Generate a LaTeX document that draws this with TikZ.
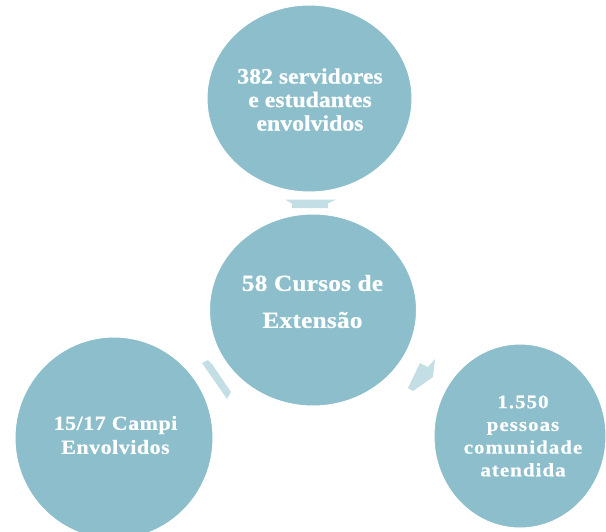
\documentclass[tikz,border=0pt]{standalone}
\usepackage{fontspec}
\setmainfont{Liberation Serif}
\usetikzlibrary{shapes.geometric}
\definecolor{circ}{RGB}{140,190,203}
\definecolor{arr}{RGB}{196,222,230}
\begin{document}
\begin{tikzpicture}[x=1pt,y=-1pt,
  bubble/.style={ellipse, fill=circ, draw=white, line width=1pt, inner sep=0pt},
  lbl/.style={text=white, align=center, inner sep=0pt},
  arrowshape/.style={fill=arr, draw=none}]
\useasboundingbox (0,0) rectangle (606,531);
\clip (0,0) rectangle (606,531);
% bubbles
\node[bubble, minimum width=205pt, minimum height=187pt] (top) at (309.5,98.5) {};
\node[bubble, minimum width=207pt, minimum height=192pt] (mid) at (313,310) {};
\node[bubble, minimum width=198pt, minimum height=202pt] (left) at (114,438) {};
\node[bubble, minimum width=172pt, minimum height=184pt] (right) at (520,436) {};
% arrows
\coordinate (a1) at (285,199.5);
\fill[arrowshape] (a1) -- (336,199.5) -- (328,203.5) -- (328,208) -- (292,208) -- (292,203.5) -- cycle;
\coordinate (a2) at (202,363);
\fill[arrowshape] (a2) -- (208,360) -- (212,364) -- (231,392) -- (227,399) -- cycle;
\coordinate (a3) at (420,363);
\fill[arrowshape] (a3) -- (428,367) -- (435,359) -- (433,377) -- (413,391) -- (408,388) -- cycle;
% labels
\node[lbl, font={\fontsize{22}{23.5}\bfseries\addfontfeature{FakeStretch=1.08,FakeBold=0.6}}] (ttop) at (310,99.5)
  {382 servidores\\e estudantes\\envolvidos};
\node[lbl, font={\fontsize{23}{37}\bfseries\addfontfeature{FakeStretch=1.1,FakeBold=0.6,LetterSpace=1}}] (tmid) at (312.5,301.5)
  {58 Cursos de\\Extensão};
\node[lbl, font={\fontsize{20}{24}\bfseries\addfontfeature{FakeStretch=1.1,FakeBold=0.6,LetterSpace=2.5}}] (tleft) at (115.5,435)
  {15/17 Campi\\Envolvidos};
\node[lbl, font={\fontsize{19}{22.7}\bfseries\addfontfeature{FakeStretch=1.1,FakeBold=0.6,LetterSpace=5.5}}] (tright) at (523,436)
  {1.550\\pessoas\\comunidade\\atendida};
\end{tikzpicture}
\end{document}
